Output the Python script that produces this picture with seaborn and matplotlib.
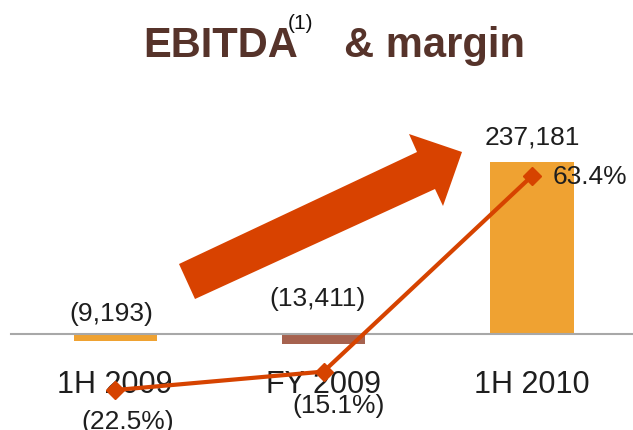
import numpy as np
import matplotlib
matplotlib.use("Agg")
import matplotlib.pyplot as plt
from matplotlib.patches import Polygon
import seaborn as sns

# ---- data ----
categories = ["1H 2009", "FY 2009", "1H 2010"]
ebitda = [-9193, -13411, 237181]
margin = [-22.5, -15.1, 63.4]

# ---- style ----
sns.set_style("white")
plt.rcParams["font.family"] = ["Liberation Sans", "DejaVu Sans"]

bar_colors = ["#EFA232", "#A6624F", "#EFA232"]
line_color = "#D64300"
arrow_color = "#D84200"
title_color = "#56332A"
text_color = "#1E1E1E"
axis_gray = "#A8A8A8"

W, H = 633, 431
fig = plt.figure(figsize=(W / 100, H / 100), dpi=100)

# axes geometry in pixels
left_px, right_px = 11, 636
base_from_bottom = 96     # zero line, pixels above figure bottom
ax_height_px = 331
ax = fig.add_axes([left_px / W, 0, (right_px - left_px) / W, ax_height_px / H])

px_per_unit = 172 / 237181.0
px_per_pct = 2.491

df_x = np.arange(len(categories))
sns.barplot(x=categories, y=ebitda, hue=categories, palette=bar_colors,
            width=0.40, saturation=1, legend=False, ax=ax, linewidth=0)
ax.set_xlim(-0.5, 2.5)
ax.set_ylim(-base_from_bottom / px_per_unit, (ax_height_px - base_from_bottom) / px_per_unit)

for s in ["left", "right", "top"]:
    ax.spines[s].set_visible(False)
ax.spines["bottom"].set_position(("data", 0))
ax.spines["bottom"].set_color(axis_gray)
ax.spines["bottom"].set_linewidth(1.5)
ax.set_yticks([])
ax.set_xticks(df_x)
ax.set_xticklabels(categories, fontsize=22, color=text_color)
ax.tick_params(axis="x", which="major", length=0, pad=25)
ax.set_xticks(np.arange(-0.5, 3.0, 1.0), minor=True)
ax.tick_params(axis="x", which="minor", length=8, width=1.3, color=axis_gray, direction="out")
ax.set_xlabel("")
ax.set_ylabel("")

# value labels for bars
bar_offsets = [(-4, 21), (-6, 36), (0, 25)]
for i, v in enumerate(ebitda):
    label = f"({abs(v):,})" if v < 0 else f"{v:,}"
    anchor = 0 if v < 0 else v
    ax.annotate(label, xy=(i, anchor), xytext=bar_offsets[i], textcoords="offset pixels",
                ha="center", va="center", fontsize=19, color=text_color)

# margin line on twin axis
ax2 = ax.twinx()
sns.lineplot(x=df_x, y=margin, ax=ax2, color=line_color, linewidth=3.0,
             marker="D", markersize=9, markeredgecolor=line_color, markeredgewidth=1)
ax2.set_xlim(-0.5, 2.5)
ax2.set_ylim(-base_from_bottom / px_per_pct, (ax_height_px - base_from_bottom) / px_per_pct)
for s in ax2.spines.values():
    s.set_visible(False)
ax2.set_yticks([])
ax2.set_ylabel("")

margin_offsets = [(13, -31, "center"), (15, -33, "center"), (21, 0, "left")]
for i, m in enumerate(margin):
    label = f"({abs(m):.1f}%)" if m < 0 else f"{m:.1f}%"
    dx, dy, ha = margin_offsets[i]
    ax2.annotate(label, xy=(i, m), xytext=(dx, dy), textcoords="offset pixels",
                 ha=ha, va="center", fontsize=19, color=text_color)

# big decorative arrow (figure pixel coordinates, y from top)
arrow_px = [(179, 265), (417, 153), (409, 135), (462, 153), (443, 207), (435, 190), (195, 300)]
arrow_pts = [(x / W, (H - y) / H) for x, y in arrow_px]
fig.patches.append(Polygon(arrow_pts, closed=True, transform=fig.transFigure,
                           facecolor=arrow_color, edgecolor="none", zorder=1))

# title
fig.text(143 / W, (H - 57) / H, "EBITDA", fontsize=30, fontweight="bold",
         color=title_color, ha="left", va="baseline")
fig.text(288 / W, (H - 29) / H, "(1)", fontsize=15, color="#111111",
         ha="left", va="baseline")
fig.text(344 / W, (H - 57) / H, "& margin", fontsize=30, fontweight="bold",
         color=title_color, ha="left", va="baseline")

fig.savefig("out.png", dpi=100)
